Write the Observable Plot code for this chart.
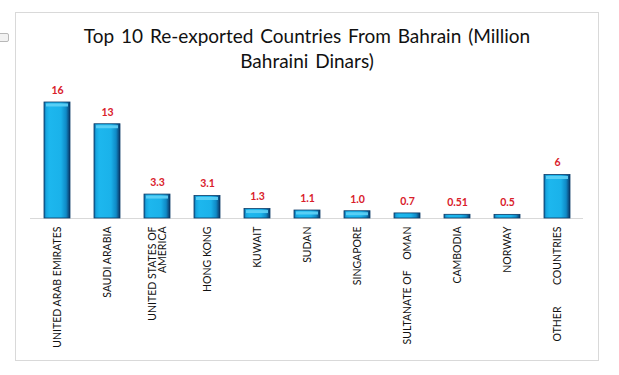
<!DOCTYPE html>
<html>
<head>
<meta charset="utf-8">
<script src="https://cdn.jsdelivr.net/npm/d3@7"></script>
<script src="https://cdn.jsdelivr.net/npm/@observablehq/plot@0.6"></script>
<style>
  html, body { margin: 0; padding: 0; background: #fff; }
  body { width: 619px; height: 375px; position: relative; overflow: hidden; font-family: Lato, "Open Sans", sans-serif; }
  #frame { position: absolute; left: 15px; top: 12px; width: 584px; height: 349px; box-sizing: border-box; border: 1px solid #d9d9d9; }
  #btn { position: absolute; left: -3px; top: 33px; width: 12px; height: 9px; box-sizing: border-box; border: 1px solid #b8b8b8; border-radius: 2px; background: #f2f2f2; }
  #title { position: absolute; left: 15px; width: 584px; top: 23px; text-align: center; font-size: 19px; line-height: 25px; color: #111; word-spacing: 2px; }
  #chart { position: absolute; left: 0; top: 0; }
</style>
</head>
<body>
<div id="frame"></div>
<div id="btn"></div>
<div id="title">Top 10 Re-exported Countries From Bahrain (Million<br>Bahraini Dinars)</div>
<div id="chart"></div>
<script>
const countries = [
  "UNITED ARAB EMIRATES",
  "SAUDI ARABIA",
  "UNITED STATES OF\nAMERICA",
  "HONG KONG",
  "KUWAIT",
  "SUDAN",
  "SINGAPORE",
  "SULTANATE OF\u00a0\u00a0\u00a0\u00a0OMAN",
  "CAMBODIA",
  "NORWAY",
  "OTHER\u00a0\u00a0\u00a0\u00a0\u00a0\u00a0\u00a0\u00a0COUNTRIES"
];
const values = [16, 13, 3.3, 3.1, 1.3, 1.1, 1.0, 0.7, 0.51, 0.5, 6];
const valueLabels = ["16", "13", "3.3", "3.1", "1.3", "1.1", "1.0", "0.7", "0.51", "0.5", "6"];

const data = countries.map((c, i) => ({country: c, value: values[i], label: valueLabels[i]}));

const chart = Plot.plot({
  width: 619,
  height: 375,
  marginTop: 102,
  marginBottom: 157,
  marginLeft: 30,
  marginRight: 36,
  style: {fontFamily: "Lato, 'Open Sans', sans-serif", fontSize: "10.5px", color: "#111", background: "transparent"},
  x: {domain: countries, paddingInner: 0.484, paddingOuter: 0.23, label: null, tickSize: 0, tickRotate: -90, tickPadding: 8},
  y: {domain: [0, 16], axis: null},
  marks: [
    Plot.ruleY([0], {stroke: "#d9d9d9", strokeWidth: 1}),
    Plot.barY(data, {x: "country", y: "value", fill: "url(#barGrad)", stroke: "#0b3a66", strokeWidth: 0.8}),
    Plot.tickY(data.filter(d => d.value > 0.8), {x: "country", y: "value", stroke: "#5fd2f6", strokeWidth: 3, dy: 2.5, insetLeft: 2, insetRight: 2, strokeOpacity: 0.9}),
    Plot.text(data, {x: "country", y: "value", text: "label", dy: -12, fill: "#d9202a", fontWeight: "bold", fontSize: 10.5})
  ]
});

const defs = d3.create("svg:defs");
const g = defs.append("linearGradient").attr("id", "barGrad").attr("x1", "0").attr("x2", "1").attr("y1", "0").attr("y2", "0");
[["0", "#0c5f99"], ["0.08", "#16a6e0"], ["0.2", "#1db7ee"], ["0.65", "#1ab2ea"], ["0.85", "#0f8ac6"], ["1", "#0a3563"]]
  .forEach(([o, c]) => g.append("stop").attr("offset", o).attr("stop-color", c));
chart.insertBefore(defs.node(), chart.firstChild);

document.getElementById("chart").appendChild(chart);
</script>
</body>
</html>
